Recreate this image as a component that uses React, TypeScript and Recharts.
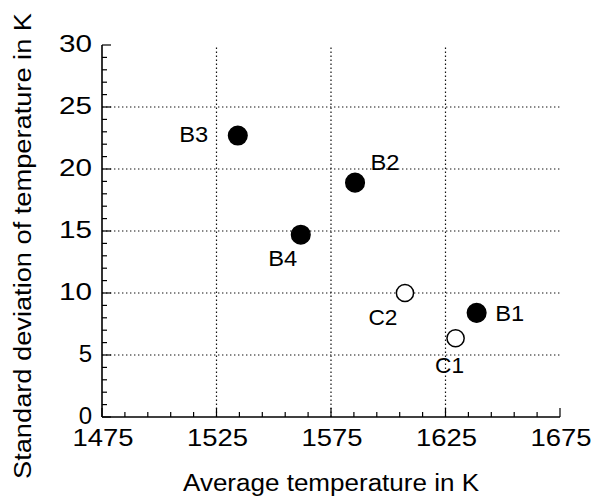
import { ReferenceLine, Scatter, ScatterChart, XAxis, YAxis } from 'recharts'

// filled circles
const bNames = ['B1', 'B2', 'B3', 'B4']
const bAvgTemp = [1638.6, 1585.5, 1534.3, 1561.8]
const bStdDev = [8.4, 18.9, 22.7, 14.7]

// open circles
const cNames = ['C1', 'C2']
const cAvgTemp = [1629.4, 1607.3]
const cStdDev = [6.35, 10.0]

const xMajorTicks = [1475, 1525, 1575, 1625, 1675]
const yMajorTicks = [0, 5, 10, 15, 20, 25, 30]
const xGridLines = [1525, 1575, 1625]
const yGridLines = [5, 10, 15, 20, 25]
const xAllTicks = Array.from({ length: 21 }, (_, i) => 1475 + i * 10)
const yAllTicks = Array.from({ length: 31 }, (_, i) => i)

// where each point's name sits relative to its marker (px)
const labelOffsets: Record<string, [number, number]> = {
  B1: [33, 0],
  B2: [30, -21],
  B3: [-44, -2],
  B4: [-18, 23],
  C1: [-6, 27],
  C2: [-22, 24],
}

const bData = bNames.map((name, i) => ({ name, x: bAvgTemp[i], y: bStdDev[i] }))
const cData = cNames.map((name, i) => ({ name, x: cAvgTemp[i], y: cStdDev[i] }))

const font = '"Liberation Sans", Arial, Helvetica, sans-serif'

// plot box edges, fixed by the chart margins and axis sizes below
const W = 598
const H = 501
const M = { top: 45, right: 38, bottom: 0, left: 0 }
const Y_AXIS_W = 102
const X_AXIS_H = 84
const plotLeft = M.left + Y_AXIS_W
const plotRight = W - M.right
const plotTop = M.top
const plotBottom = H - M.bottom - X_AXIS_H

const tickFont = { fontSize: 24, fontFamily: font, fill: '#000' }
const tickStroke = '#000'

const BottomTick = ({ x, payload }: any) => {
  const major = xMajorTicks.includes(payload.value)
  return (
    <g>
      <line x1={x} x2={x} y1={plotBottom} y2={plotBottom - (major ? 9 : 5)} stroke={tickStroke} strokeWidth={1.2} />
      {major && (
        <text x={x + 1} y={plotBottom + 29} textAnchor="middle" textLength={61} lengthAdjust="spacingAndGlyphs" {...tickFont}>
          {payload.value}
        </text>
      )}
    </g>
  )
}

const TopTick = ({ x, payload }: any) => {
  const major = xMajorTicks.includes(payload.value)
  return <line x1={x} x2={x} y1={plotTop} y2={plotTop + (major ? 9 : 4)} stroke={tickStroke} strokeWidth={1.2} />
}

const LeftTick = ({ y, payload }: any) => {
  const major = yMajorTicks.includes(payload.value)
  const two = String(payload.value).length > 1
  return (
    <g>
      <line x1={plotLeft} x2={plotLeft + (major ? 9 : 5)} y1={y} y2={y} stroke={tickStroke} strokeWidth={1.2} />
      {major && (
        <text
          x={plotLeft - 10}
          y={y + 7}
          textAnchor="end"
          {...(two ? { textLength: 33, lengthAdjust: 'spacingAndGlyphs' } : {})}
          {...tickFont}
        >
          {payload.value}
        </text>
      )}
    </g>
  )
}

const RightTick = ({ y, payload }: any) => {
  const major = yMajorTicks.includes(payload.value)
  return <line x1={plotRight} x2={plotRight - (major ? 9 : 5)} y1={y} y2={y} stroke={tickStroke} strokeWidth={1.2} />
}

const XTitle = () => (
  <text
    x={(plotLeft + plotRight) / 2}
    y={plotBottom + 74}
    textAnchor="middle"
    fontSize={23}
    textLength={296}
    lengthAdjust="spacingAndGlyphs"
    fontFamily={font}
    fill="#000"
  >
    Average temperature in K
  </text>
)

const YTitle = () => {
  const cx = 31
  const cy = 246
  return (
    <text
      x={cx}
      y={cy}
      transform={`rotate(-90, ${cx}, ${cy})`}
      textAnchor="middle"
      fontSize={23}
      textLength={466}
      lengthAdjust="spacingAndGlyphs"
      fontFamily={font}
      fill="#000"
    >
      Standard deviation of temperature in K
    </text>
  )
}

const pointShape = (filled: boolean) => (props: any) => {
  const { cx, cy, payload } = props
  const [dx, dy] = labelOffsets[payload.name] ?? [0, 0]
  return (
    <g>
      <circle cx={cx} cy={cy} r={filled ? 9.3 : 8.6} fill={filled ? '#000' : '#fff'} stroke="#000" strokeWidth={1.5} />
      <text
        x={cx + dx}
        y={cy + dy + 8}
        textAnchor="middle"
        fontSize={22}
        textLength={29}
        lengthAdjust="spacingAndGlyphs"
        fontFamily={font}
        fill="#000"
      >
        {payload.name}
      </text>
    </g>
  )
}

const frame = { stroke: '#000', strokeWidth: 1.6 }

export default function App() {
  return (
    <div style={{ width: W, height: H, background: '#fff' }}>
      <style>{'body{margin:0}'}</style>
      <ScatterChart width={W} height={H} margin={M}>
        <XAxis
          dataKey="x"
          type="number"
          domain={[1475, 1675]}
          allowDataOverflow
          ticks={xAllTicks}
          interval={0}
          tickLine={false}
          height={X_AXIS_H}
          axisLine={frame}
          tick={<BottomTick />}
          label={<XTitle />}
        />
        <XAxis
          xAxisId="top"
          orientation="top"
          type="number"
          domain={[1475, 1675]}
          allowDataOverflow
          ticks={xAllTicks}
          interval={0}
          tickLine={false}
          height={0}
          axisLine={frame}
          tick={<TopTick />}
        />
        <YAxis
          dataKey="y"
          type="number"
          domain={[0, 30]}
          allowDataOverflow
          ticks={yAllTicks}
          interval={0}
          tickLine={false}
          width={Y_AXIS_W}
          axisLine={frame}
          tick={<LeftTick />}
          label={<YTitle />}
        />
        <YAxis
          yAxisId="right"
          orientation="right"
          type="number"
          domain={[0, 30]}
          allowDataOverflow
          ticks={yAllTicks}
          interval={0}
          tickLine={false}
          width={0}
          axisLine={frame}
          tick={<RightTick />}
        />
        {xGridLines.map((v) => (
          <ReferenceLine key={`gx${v}`} x={v} stroke="#111" strokeWidth={1.2} strokeDasharray="1.4 2.6" />
        ))}
        {yGridLines.map((v) => (
          <ReferenceLine key={`gy${v}`} y={v} stroke="#111" strokeWidth={1.2} strokeDasharray="1.4 2.6" />
        ))}
        <Scatter data={bData} isAnimationActive={false} shape={pointShape(true)} />
        <Scatter data={cData} isAnimationActive={false} shape={pointShape(false)} />
      </ScatterChart>
    </div>
  )
}
